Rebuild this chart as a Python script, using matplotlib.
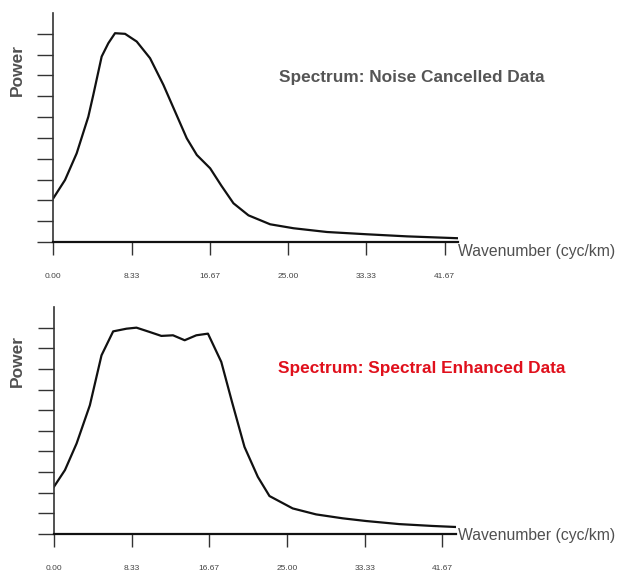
#!/usr/bin/env python3
# -*- coding: UTF-8 -*-

"""
功率谱对比图: 去噪数据 / 谱增强数据
"""

import matplotlib
matplotlib.use('agg')
from matplotlib import pyplot as plt

# 数据
wave_top = [0, 1.25, 2.49, 3.73, 4.26, 5.15, 5.86, 6.57, 7.64, 8.88, 10.3, 11.72,
            12.97, 14.21, 15.28, 16.7, 17.9, 19.18, 20.78, 23.09, 25.58, 29.13,
            33.4, 37.66, 43.1]
power_top = [2.1, 2.98, 4.26, 6.02, 7.07, 8.91, 9.55, 10.03, 10.0, 9.63, 8.83, 7.55,
             6.26, 4.98, 4.18, 3.54, 2.7, 1.86, 1.28, 0.85, 0.66, 0.48,
             0.37, 0.27, 0.18]

wave_bot = [0, 1.18, 2.43, 3.85, 5.1, 6.35, 7.78, 8.85, 10.27, 11.52, 12.77, 14.02,
            15.27, 16.52, 17.95, 19.1, 20.44, 21.87, 23.12, 25.61, 28.12, 30.97,
            33.47, 37.03, 40.6, 43.1]
power_bot = [2.29, 3.1, 4.39, 6.24, 8.66, 9.82, 9.95, 10.0, 9.79, 9.6, 9.63, 9.39,
             9.63, 9.71, 8.34, 6.4, 4.22, 2.77, 1.84, 1.24, 0.95, 0.76,
             0.63, 0.48, 0.39, 0.34]

x_ticks = [0.0, 8.333, 16.667, 25.0, 33.333, 41.667]
x_tick_labels = ['0.00', '8.33', '16.67', '25.00', '33.33', '41.67']
y_ticks = list(range(0, 11))

titles = ['Spectrum: Noise Cancelled Data', 'Spectrum: Spectral Enhanced Data']
title_colors = ['#555555', '#e0101c']

plt.rcParams['font.family'] = ['Liberation Sans', 'DejaVu Sans']

fig = plt.figure(figsize=(6.19, 5.71), dpi=100)

_panels = [
    ([0.0861, 0.5762, 0.654, 0.401], wave_top, power_top, 0.877, 0.865, 0.5587),
    ([0.0872, 0.0648, 0.649, 0.3975], wave_bot, power_bot, 0.368, 0.3555, 0.0618),
]

for _i, (_rect, _x, _y, _py, _ty, _wy) in enumerate(_panels):
    _ax = fig.add_axes(_rect)
    _ax.plot(_x, _y, color='#111111', lw=1.6, solid_joinstyle='round')
    _ax.set_xlim(0, 43.1)
    _ax.set_ylim(0, 11.0)

    _ax.spines['top'].set_visible(False)
    _ax.spines['right'].set_visible(False)
    _ax.spines['left'].set_color('#333333')
    _ax.spines['bottom'].set_color('#111111')
    _ax.spines['left'].set_linewidth(1.2)
    _ax.spines['bottom'].set_linewidth(1.6)

    _ax.set_yticks(y_ticks)
    _ax.set_yticklabels([])
    _ax.tick_params(axis='y', direction='out', length=11.5, width=1.0, color='#333333')

    _ax.set_xticks(x_ticks)
    _ax.set_xticklabels(x_tick_labels, fontsize=6, color='#444444')
    _ax.tick_params(axis='x', direction='out', length=9.4, width=1.0, color='#333333', pad=13)

    # 文字
    fig.text(0.0275, _py, 'Power', rotation=90, ha='center', va='center',
             fontsize=12.5, fontweight='bold', color='#505050')
    fig.text(0.451 - 0.002 * _i, _ty, titles[_i], ha='left', va='center',
             fontsize=12.4, fontweight='bold', color=title_colors[_i])
    fig.text(0.740, _wy, 'Wavenumber (cyc/km)', ha='left', va='center',
             fontsize=11.3, color='#505050')

fig.savefig('out.png', dpi=100)
